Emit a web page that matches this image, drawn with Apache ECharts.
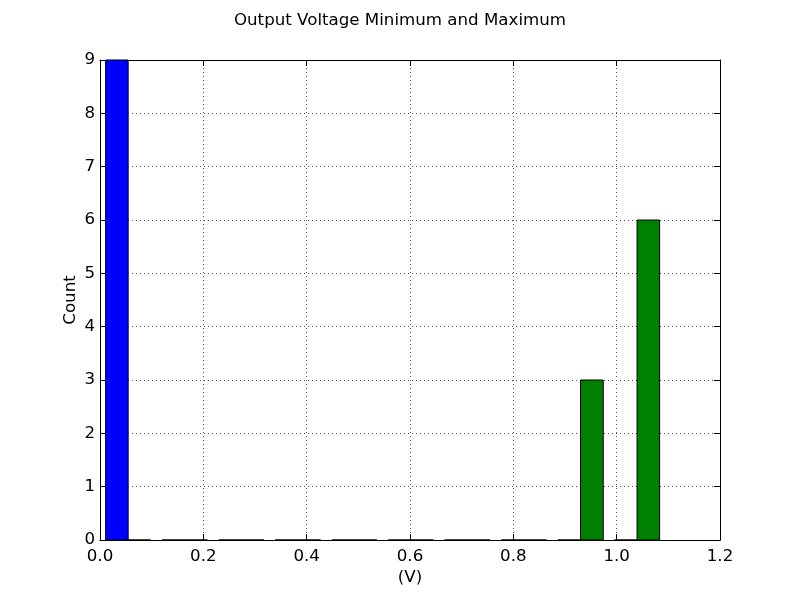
<!DOCTYPE html>
<html>
<head>
<meta charset="utf-8">
<script src="https://cdn.jsdelivr.net/npm/echarts@6/dist/echarts.min.js"></script>
<style>html,body{margin:0;padding:0;background:#fff;}#c{width:800px;height:600px;}</style>
</head>
<body>
<div id="c"></div>
<script>
// Histogram bin edges (V), shared by both datasets
var binEdges = [0.000, 0.109, 0.219, 0.328, 0.438, 0.547, 0.656, 0.766, 0.875, 0.985, 1.094];
// Counts per bin
var minCounts = [9, 0, 0, 0, 0, 0, 0, 0, 0, 0];
var maxCounts = [0, 0, 0, 0, 0, 0, 0, 0, 3, 6];
// Axis ticks
var xTicks = [0.0, 0.2, 0.4, 0.6, 0.8, 1.0, 1.2];
var yTicks = [0, 1, 2, 3, 4, 5, 6, 7, 8, 9];

var FONT = 'DejaVu Sans';
var FS = 16.67;

function buildData(counts) {
  var d = [];
  for (var k = 0; k < counts.length; k++) {
    d.push([binEdges[k], binEdges[k + 1], counts[k]]);
  }
  return d;
}

function makeRender(slot, color) {
  return function (params, api) {
    var left = api.value(0), right = api.value(1), cnt = api.value(2);
    var w = right - left;
    var x0 = left + w * (0.1 + 0.4 * slot);
    var x1 = x0 + w * 0.4;
    var p0 = api.coord([x0, cnt]);
    var p1 = api.coord([x1, 0]);
    return {
      type: 'rect',
      shape: { x: p0[0], y: p0[1], width: p1[0] - p0[0], height: p1[1] - p0[1] },
      style: { fill: color, stroke: '#000', lineWidth: 1 }
    };
  };
}

var chart = echarts.init(document.getElementById('c'), null, { renderer: 'canvas' });
var xMin = xTicks[0], xMax = xTicks[xTicks.length - 1];
var yMin = yTicks[0], yMax = yTicks[yTicks.length - 1];

chart.setOption({
  animation: false,
  backgroundColor: '#fff',
  title: {
    text: 'Output Voltage Minimum and Maximum',
    left: 'center',
    top: 7,
    textStyle: { fontFamily: FONT, fontSize: FS, fontWeight: 'normal', color: '#000' }
  },
  grid: { left: 100, right: 80, top: 60, bottom: 60 },
  xAxis: [{
    type: 'value', min: xMin, max: xMax, interval: 0.2,
    name: '(V)', nameLocation: 'middle', nameGap: 29, nameMoveOverlap: false,
    nameTextStyle: { fontFamily: FONT, fontSize: FS, color: '#000' },
    axisLine: { show: true, onZero: false, lineStyle: { color: '#000', width: 1 } },
    axisTick: { show: true, inside: true, length: 6, lineStyle: { color: '#000' } },
    axisLabel: { fontFamily: FONT, fontSize: FS, color: '#000', margin: 8,
      formatter: function (v) { return v.toFixed(1); } },
    splitLine: { show: true, lineStyle: { color: '#555', width: 1, type: [1, 3] } }
  }, {
    type: 'value', position: 'top', min: xMin, max: xMax, interval: 0.2,
    axisLine: { show: true, onZero: false, lineStyle: { color: '#000', width: 1 } },
    axisTick: { show: true, inside: true, length: 6, lineStyle: { color: '#000' } },
    axisLabel: { show: false },
    splitLine: { show: false }
  }],
  yAxis: [{
    type: 'value', min: yMin, max: yMax, interval: 1,
    name: 'Count', nameLocation: 'middle', nameGap: 21, nameMoveOverlap: false,
    nameTextStyle: { fontFamily: FONT, fontSize: FS, color: '#000' },
    axisLine: { show: true, onZero: false, lineStyle: { color: '#000', width: 1 } },
    axisTick: { show: true, inside: true, length: 6, lineStyle: { color: '#000' } },
    axisLabel: { fontFamily: FONT, fontSize: FS, color: '#000', margin: 5 },
    splitLine: { show: true, lineStyle: { color: '#555', width: 1, type: [1, 3] } }
  }, {
    type: 'value', position: 'right', min: yMin, max: yMax, interval: 1,
    axisLine: { show: true, onZero: false, lineStyle: { color: '#000', width: 1 } },
    axisTick: { show: true, inside: true, length: 6, lineStyle: { color: '#000' } },
    axisLabel: { show: false },
    splitLine: { show: false }
  }],
  series: [{
    type: 'custom', name: 'Minimum', xAxisIndex: 0, yAxisIndex: 0,
    renderItem: makeRender(0, '#0000ff'),
    encode: { x: [0, 1], y: 2 },
    data: buildData(minCounts)
  }, {
    type: 'custom', name: 'Maximum', xAxisIndex: 0, yAxisIndex: 0,
    renderItem: makeRender(1, '#008000'),
    encode: { x: [0, 1], y: 2 },
    data: buildData(maxCounts)
  }]
});
</script>
</body>
</html>
